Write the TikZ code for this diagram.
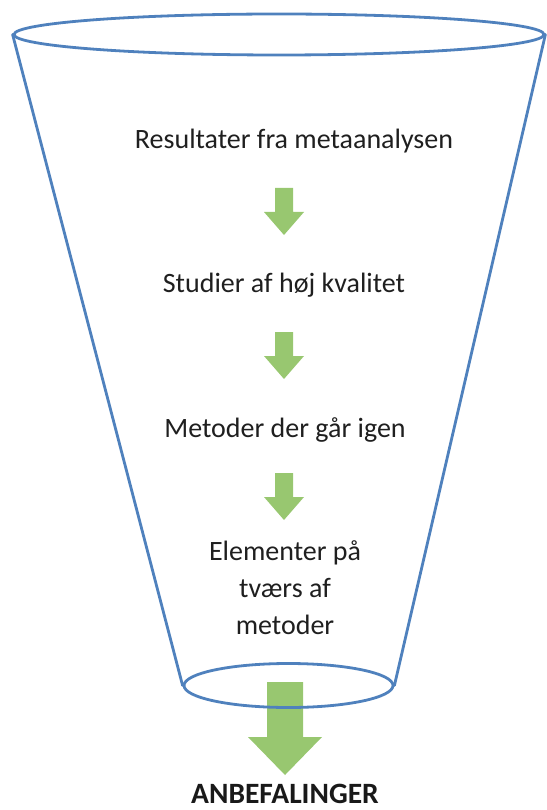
\documentclass[tikz,border=0pt]{standalone}
\usepackage{fontspec}
\setmainfont{Carlito}
\usetikzlibrary{shapes.geometric}
\definecolor{funnelblue}{RGB}{79,129,189}
\definecolor{flowgreen}{RGB}{152,199,112}
\tikzset{
  rim/.style={draw=funnelblue, ellipse, line width=2.8pt, inner sep=0pt},
  wall/.style={draw=funnelblue, line width=2.8pt, line cap=round},
  stage/.style={font=\fontsize{28}{37}\selectfont, align=center, text=black!88, inner sep=0pt},
  verdict/.style={font=\bfseries\fontsize{29.5}{36}\selectfont, text=black!90, inner sep=0pt},
  flow/.style={fill=flowgreen, draw=none}
}
\begin{document}
\begin{tikzpicture}[x=1pt,y=-1pt]
\useasboundingbox (0,0) rectangle (546,810);

% Flow arrows
\foreach \t in {188,332,473}{
  \fill[flow] (275,\t) -- (293,\t) -- (293,\t+24) -- (304,\t+24) -- (284,\t+47)
    -- (264,\t+24) -- (275,\t+24) -- cycle;
}
\fill[flow] (267,682) -- (303,682) -- (303,737) -- (322,737) -- (285,775)
  -- (248,737) -- (267,737) -- cycle;

% Funnel
\node[rim, minimum width=530pt, minimum height=41pt] (top) at (279,34.5) {};
\node[rim, minimum width=209pt, minimum height=44pt] (base) at (288.5,685.5) {};
\draw[wall] (top.west) -- (base.west);
\draw[wall] (top.east) -- (base.east);

% Stages
\node[stage, anchor=base] (results) at (294,149) {Resultater fra metaanalysen};
\node[stage, anchor=base] (quality) at (284,292) {Studier af høj kvalitet};
\node[stage, anchor=base] (methods) at (285,437) {Metoder der går igen};
\node[stage] (elements) at (285,588) {Elementer på\\tværs af\\metoder};
\node[verdict, anchor=base] (advice) at (285,803) {ANBEFALINGER};

\end{tikzpicture}
\end{document}
